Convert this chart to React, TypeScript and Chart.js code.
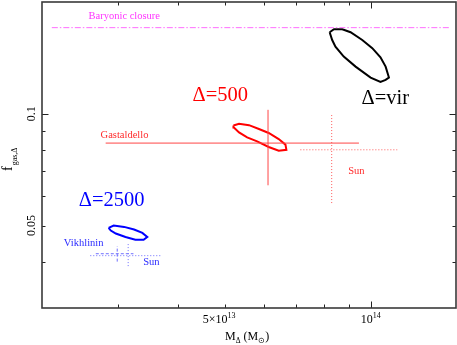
import React, { useEffect, useRef } from 'react';
import { Chart, registerables } from 'chart.js';

Chart.register(...registerables);

// ---- axes (mass in units of 1e13 Msun) ----
const massRange = [2.09, 15];
const fgasRange = [0.03, 0.2];
const massMinorTicks = [3, 4, 5, 6, 7, 8, 9];
const massMajorTicks = [10];
const fgasMinorTicks = [0.04, 0.05, 0.06, 0.07, 0.08, 0.09];
const fgasMajorTicks = [0.1];
const massTickValues = [5, 10];
const massTickBase = ['5×10', '10'];
const massTickSup = ['13', '14'];
const fgasTickValues = [0.1, 0.05];
const fgasTickText = ['0.1', '0.05'];

// ---- contours ----
const virMass = [8.22, 8.39, 8.73, 9.08, 9.6, 10.07, 10.47, 10.73, 10.9, 10.73, 10.47, 9.99, 9.3, 8.79, 8.45, 8.32];
const virFgas = [0.1658, 0.1689, 0.1689, 0.1658, 0.158, 0.1502, 0.142, 0.134, 0.1252, 0.1234, 0.1219, 0.1252, 0.134, 0.1426, 0.1516, 0.158];

const r500Mass = [5.2, 5.34, 5.6, 5.87, 6.15, 6.45, 6.66, 6.69, 6.45, 6.15, 5.82, 5.55, 5.34, 5.21];
const r500Fgas = [0.093, 0.094, 0.0932, 0.091, 0.0888, 0.0855, 0.0826, 0.08, 0.0795, 0.0814, 0.0843, 0.0864, 0.0891, 0.0919];

const r2500Mass = [2.87, 2.94, 3.09, 3.24, 3.37, 3.45, 3.39, 3.26, 3.11, 2.97, 2.9];
const r2500Fgas = [0.0493, 0.05, 0.0496, 0.0488, 0.0478, 0.0466, 0.0458, 0.0458, 0.0466, 0.0476, 0.0485];

// ---- literature error crosses ----
const crossMass = [6.13, 8.3, 2.99, 3.15];
const crossMassLo = [2.83, 7.15, 2.7, 2.63];
const crossMassHi = [9.45, 11.34, 3.23, 3.67];
const crossFgas = [0.0834, 0.08, 0.042, 0.0415];
const crossFgasLo = [0.0642, 0.0575, 0.04, 0.0389];
const crossFgasHi = [0.1025, 0.0994, 0.044, 0.0447];

// ---- baryonic closure ----
const baryonFgas = 0.1706;
const baryonMass = [2.19, 14.6];

// ---- in-plot labels ----
const labelText = ['Baryonic closure', 'Δ=500', 'Δ=vir', 'Δ=2500', 'Gastaldello', 'Sun', 'Vikhlinin', 'Sun'];
const labelMass = [2.609, 4.28, 9.567, 2.49, 2.762, 8.982, 2.319, 3.384];
const labelFgas = [0.18, 0.1084, 0.1061, 0.0566, 0.0862, 0.069, 0.04403, 0.03926];

const SERIF = '"Liberation Serif", "Times New Roman", serif';
const RED = '#ff0000';
const BLUE = '#0000ff';

const labelStyle = [
  { size: 10.5, color: '#ff33ff' },
  { size: 20.5, color: RED },
  { size: 20.5, color: '#000' },
  { size: 20.5, color: BLUE },
  { size: 10.5, color: '#ff2a2a' },
  { size: 10.5, color: '#ff2a2a' },
  { size: 10.5, color: '#2a2aff' },
  { size: 10.5, color: '#2a2aff' },
];

const closed = (xs: number[], ys: number[]) => {
  const pts = xs.map((x, i) => ({ x, y: ys[i] }));
  pts.push({ ...pts[0] });
  return pts;
};

const line = (data: any[], color: string, width: number, dash: number[] = []) => ({
  data,
  showLine: true,
  borderColor: color,
  backgroundColor: color,
  borderWidth: width,
  borderDash: dash,
  pointRadius: 0,
  fill: false,
  tension: 0,
});

const crossStyle = [
  { color: 'rgb(255,70,70)', dash: [] as number[] },
  { color: 'rgb(255,90,90)', dash: [1, 2] },
  { color: 'rgb(110,110,255)', dash: [3, 2] },
  { color: 'rgb(110,110,255)', dash: [1, 2] },
];

const overlay = {
  id: 'overlay',
  afterDatasetsDraw(chart: any) {
    const { ctx, chartArea: a, scales } = chart;
    const xs = scales.x;
    const ys = scales.y;
    ctx.save();

    // ticks (inward, all four sides)
    ctx.strokeStyle = '#222';
    ctx.lineWidth = 1;
    const seg = (x1: number, y1: number, x2: number, y2: number) => {
      ctx.beginPath();
      ctx.moveTo(x1, y1);
      ctx.lineTo(x2, y2);
      ctx.stroke();
    };
    const xTick = (v: number, len: number) => {
      const p = Math.round(xs.getPixelForValue(v)) + 0.5;
      seg(p, a.bottom, p, a.bottom - len);
      seg(p, a.top, p, a.top + len);
    };
    const yTick = (v: number, len: number) => {
      const p = Math.round(ys.getPixelForValue(v)) + 0.5;
      seg(a.left, p, a.left + len, p);
      seg(a.right, p, a.right - len, p);
    };
    massMinorTicks.forEach((v) => xTick(v, 3.5));
    massMajorTicks.forEach((v) => xTick(v, 6.5));
    fgasMinorTicks.forEach((v) => yTick(v, 3.5));
    fgasMajorTicks.forEach((v) => yTick(v, 6.5));

    // frame
    ctx.strokeStyle = '#3a3a3a';
    ctx.lineWidth = 1.6;
    ctx.strokeRect(a.left, a.top, a.right - a.left, a.bottom - a.top);

    ctx.fillStyle = '#000';
    ctx.textBaseline = 'alphabetic';

    // x tick labels with superscripts
    massTickValues.forEach((v, i) => {
      ctx.font = `12px ${SERIF}`;
      const bw = ctx.measureText(massTickBase[i]).width;
      ctx.font = `8px ${SERIF}`;
      const sw = ctx.measureText(massTickSup[i]).width;
      const off = i === 0 ? -6 : 0;
      const x0 = xs.getPixelForValue(v) - (bw + sw) / 2 + off;
      ctx.textAlign = 'left';
      ctx.font = `12px ${SERIF}`;
      ctx.fillText(massTickBase[i], x0, a.bottom + 15);
      ctx.font = `8px ${SERIF}`;
      ctx.fillText(massTickSup[i], x0 + bw, a.bottom + 10);
    });

    // y tick labels (rotated)
    fgasTickValues.forEach((v, i) => {
      ctx.save();
      ctx.translate(a.left - 7, ys.getPixelForValue(v));
      ctx.rotate(-Math.PI / 2);
      ctx.textAlign = 'center';
      ctx.font = `12px ${SERIF}`;
      ctx.fillText(fgasTickText[i], 0, 0);
      ctx.restore();
    });

    // x title: M_Δ (M_⊙)
    {
      let x = 225;
      const yb = a.bottom + 32;
      ctx.textAlign = 'left';
      const part = (t: string, size: number, dy: number) => {
        ctx.font = `${size}px ${SERIF}`;
        ctx.fillText(t, x, yb + dy);
        x += ctx.measureText(t).width;
      };
      part('M', 12, 0);
      part('Δ', 7.5, 3);
      part(' (M', 12, 0);
      part('⊙', 7.5, 3);
      part(')', 12, 0);
    }

    // y title: f_gas,Δ (rotated)
    {
      ctx.save();
      ctx.translate(12, 171);
      ctx.rotate(-Math.PI / 2);
      ctx.textAlign = 'left';
      ctx.font = `14px ${SERIF}`;
      ctx.fillText('f', 0, 0);
      const fw = ctx.measureText('f').width;
      ctx.font = `8px ${SERIF}`;
      ctx.fillText('gas,Δ', fw + 1, 5);
      ctx.restore();
    }

    // in-plot labels
    labelText.forEach((t, i) => {
      ctx.font = `${labelStyle[i].size}px ${SERIF}`;
      ctx.fillStyle = labelStyle[i].color;
      ctx.textAlign = 'left';
      ctx.fillText(t, xs.getPixelForValue(labelMass[i]), ys.getPixelForValue(labelFgas[i]));
    });

    ctx.restore();
  },
};

export default function App() {
  const ref = useRef<HTMLCanvasElement | null>(null);

  useEffect(() => {
    if (!ref.current) return;
    const datasets: any[] = [];

    datasets.push(
      line(
        [
          { x: baryonMass[0], y: baryonFgas },
          { x: baryonMass[1], y: baryonFgas },
        ],
        'rgb(255,110,255)',
        1,
        [6, 2, 1.5, 2]
      )
    );

    crossMass.forEach((m, i) => {
      const st = crossStyle[i];
      datasets.push(
        line(
          [
            { x: crossMassLo[i], y: crossFgas[i] },
            { x: crossMassHi[i], y: crossFgas[i] },
          ],
          st.color,
          1,
          st.dash
        )
      );
      datasets.push(
        line(
          [
            { x: m, y: crossFgasLo[i] },
            { x: m, y: crossFgasHi[i] },
          ],
          st.color,
          1,
          st.dash
        )
      );
    });

    datasets.push(line(closed(virMass, virFgas), '#000', 2));
    datasets.push(line(closed(r500Mass, r500Fgas), RED, 2));
    datasets.push(line(closed(r2500Mass, r2500Fgas), BLUE, 2));

    const chart = new Chart(ref.current, {
      type: 'scatter',
      data: { datasets },
      options: {
        animation: false,
        responsive: false,
        devicePixelRatio: 1,
        layout: { padding: { left: 42, right: 1, top: 2, bottom: 37 } },
        plugins: { legend: { display: false }, tooltip: { enabled: false } },
        scales: {
          x: { type: 'logarithmic', min: massRange[0], max: massRange[1], display: false },
          y: { type: 'logarithmic', min: fgasRange[0], max: fgasRange[1], display: false },
        },
      },
      plugins: [overlay],
    } as any);
    return () => chart.destroy();
  }, []);

  return (
    <div style={{ position: 'absolute', left: 0, top: 0, width: 457, height: 345, background: '#fff' }}>
      <canvas ref={ref} width={457} height={345} style={{ display: 'block' }} />
    </div>
  );
}
